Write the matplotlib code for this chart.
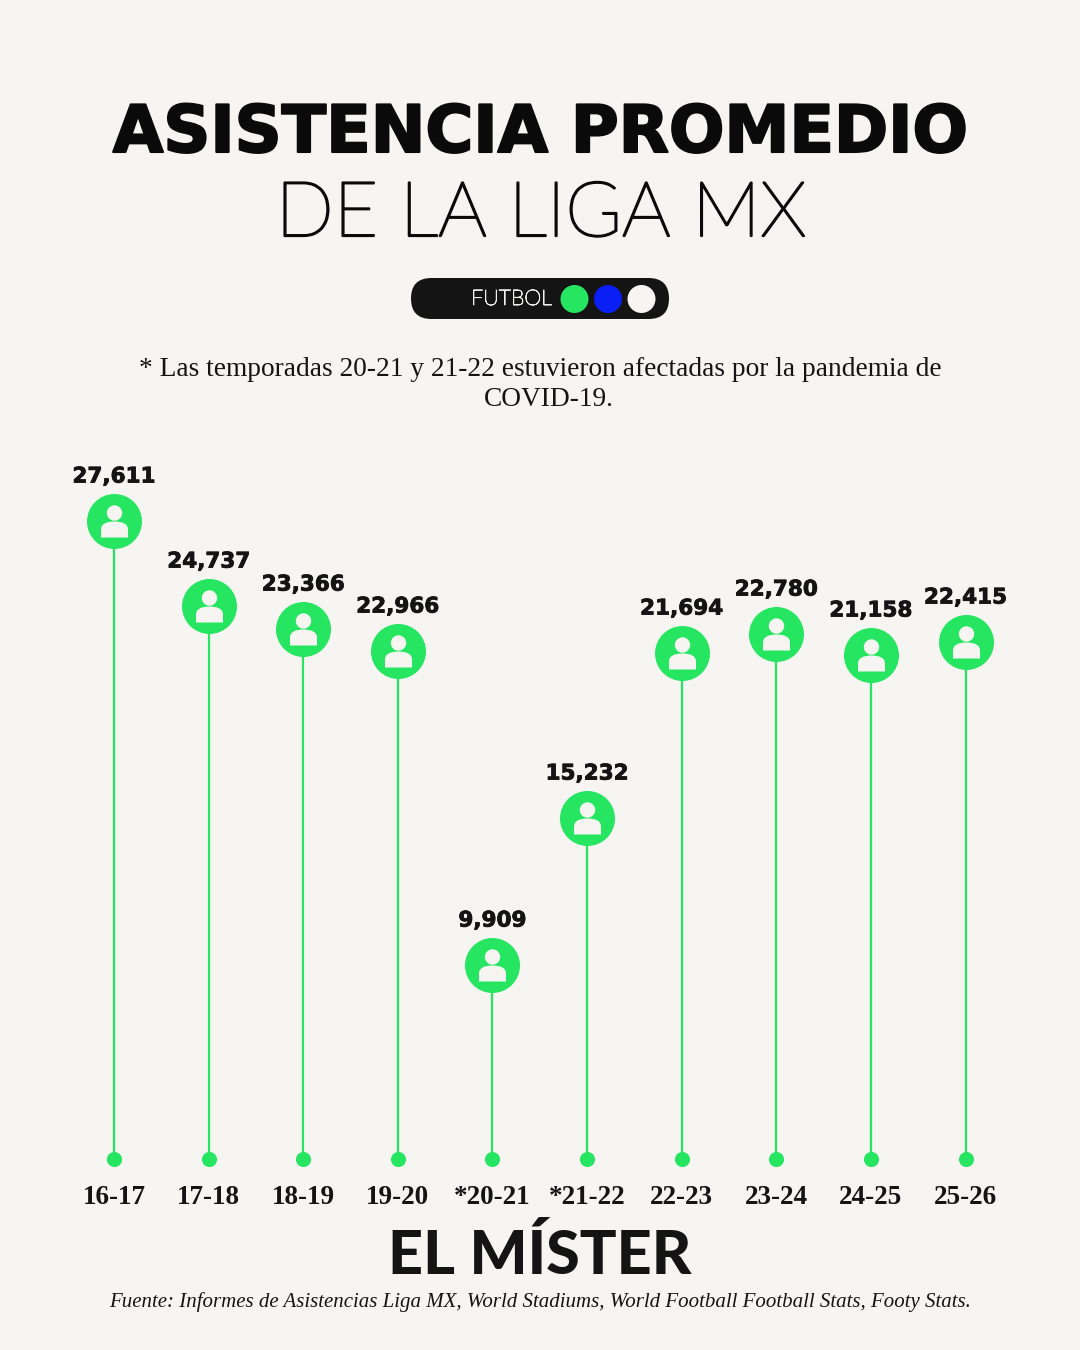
import matplotlib
matplotlib.use('Agg')
import matplotlib.pyplot as plt
import matplotlib.patheffects as pe
from matplotlib.patches import FancyBboxPatch, Circle
from matplotlib.path import Path

seasons = ['16-17', '17-18', '18-19', '19-20', '*20-21', '*21-22', '22-23', '23-24', '24-25', '25-26']
attendance = [27611, 24737, 23366, 22966, 9909, 15232, 21694, 22780, 21158, 22415]
# stem height as drawn in the graphic, it does not follow attendance exactly
stem_height = [638, 553, 530, 508, 194, 341, 506, 525, 504, 517]

BG = '#f6f5f1'
GREEN = '#26e561'
BLUE = '#0a1ff5'
DARK = '#141414'
WIDE_FONT = ['DejaVu Sans']
LOGO_FONT = ['Lato', 'DejaVu Sans']
LIGHT_FONT = ['Lato', 'Open Sans', 'DejaVu Sans']
SERIF = ['Liberation Serif', 'DejaVu Serif']

fig = plt.figure(figsize=(10.8, 13.5), dpi=100, facecolor=BG)

# layer in image pixels for the heading, pill and footer
bg = fig.add_axes([0, 0, 1, 1])
bg.set_xlim(0, 1080)
bg.set_ylim(1350, 0)
bg.axis('off')

bg.text(540, 152, 'ASISTENCIA PROMEDIO', ha='center', va='baseline', fontsize=47, color='#0a0a0a',
        family=WIDE_FONT, weight='bold', path_effects=[pe.withStroke(linewidth=1.5, foreground='#0a0a0a')])
bg.text(541, 236, 'DE LA LIGA MX', ha='center', va='baseline', fontsize=55, color='#0a0a0a',
        family=LIGHT_FONT, weight='light', path_effects=[pe.withStroke(linewidth=1.6, foreground='#0a0a0a')])

bg.add_patch(FancyBboxPatch((411, 278), 258, 41, boxstyle='round,pad=0,rounding_size=20.5',
                            fc=DARK, ec='none'))
bg.text(511.5, 299, 'FUTBOL', ha='center', va='center', fontsize=15.5, color='#f0f0ee', family=LIGHT_FONT, weight='light',
        path_effects=[pe.withStroke(linewidth=0.6, foreground='#f0f0ee')])
for cx, c in zip([574.5, 608, 641.5], [GREEN, BLUE, BG]):
    bg.add_patch(Circle((cx, 299), 14, fc=c, ec='none'))

bg.text(540, 370, '* Las temporadas 20-21 y 21-22 estuvieron afectadas por la pandemia de', ha='center', va='center',
        fontsize=19.75, color=DARK, family=SERIF)
bg.text(549, 400, 'COVID-19.', ha='center', va='center', fontsize=19.75, color=DARK, family=SERIF)

bg.text(540, 1274, 'EL MÍSTER', ha='center', va='baseline', fontsize=44, color=DARK, family=LOGO_FONT, weight='black')
bg.text(540, 1302, 'Fuente: Informes de Asistencias Liga MX, World Stadiums, World Football Football Stats, Footy Stats.',
        ha='center', va='center', fontsize=15, style='italic', color=DARK, family=SERIF)

# chart layer, y is pixels above the base dots
ax = fig.add_axes([0, 0, 1, 1])
ax.patch.set_alpha(0)
unit = (965.5 - 114) / 9
ax.set_xlim(-114 / unit, (1080 - 114) / unit)
ax.set_ylim(-191, 1159)
ax.axis('off')

x = list(range(len(seasons)))
ax.vlines(x, 0, stem_height, color=GREEN, lw=1.6, zorder=1)
ax.scatter(x, [0] * len(x), s=118, color=GREEN, linewidths=0, zorder=2)
ax.scatter(x, stem_height, s=1568, color=GREEN, linewidths=0, zorder=2)

# person glyph: head and shoulders
k = 0.5523 * 7.7
head = [(0, 16.2), (k, 16.2), (7.7, 8.5 + k), (7.7, 8.5), (7.7, 8.5 - k), (k, 0.8), (0, 0.8),
        (-k, 0.8), (-7.7, 8.5 - k), (-7.7, 8.5), (-7.7, 8.5 + k), (-k, 16.2), (0, 16.2), (0, 16.2)]
head_codes = [Path.MOVETO] + [Path.CURVE4] * 12 + [Path.CLOSEPOLY]
body = [(-13.5, -16), (13.5, -16), (13.5, -8), (13.5, -2.5), (8, 0), (0, 0), (-8, 0), (-13.5, -2.5), (-13.5, -8), (-13.5, -16)]
body_codes = [Path.MOVETO, Path.LINETO, Path.LINETO, Path.CURVE4, Path.CURVE4, Path.CURVE4,
              Path.CURVE4, Path.CURVE4, Path.CURVE4, Path.CLOSEPOLY]
person = Path(head + body, head_codes + body_codes)
ax.scatter(x, stem_height, s=(2 * 16.2 * 0.72) ** 2, marker=person, color=BG, linewidths=0, zorder=3)

for xi, h, val in zip(x, stem_height, attendance):
    ax.annotate(f'{val:,}', (xi, h), xytext=(0, 32), textcoords='offset points', ha='center', va='center',
                fontsize=15.5, color=DARK, family=WIDE_FONT, weight='bold', zorder=4,
                path_effects=[pe.withStroke(linewidth=0.6, foreground=DARK)])
    ax.text(xi, -39, seasons[xi], ha='center', va='center', fontsize=19.5, weight='bold', color=DARK, family=SERIF)

fig.savefig('out.png', dpi=100, facecolor=BG)
